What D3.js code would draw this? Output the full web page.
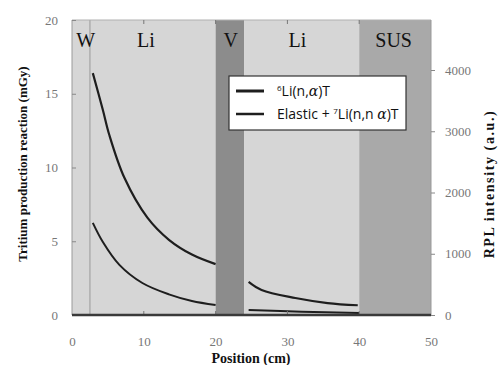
<!DOCTYPE html>
<html>
<head>
<meta charset="utf-8">
<script src="https://cdn.jsdelivr.net/npm/d3@7"></script>
<style>
  body { margin: 0; background: #fff; }
  svg text { font-family: "Liberation Serif", "DejaVu Serif", serif; }
</style>
</head>
<body>
<svg id="chart" width="498" height="365"></svg>
<script>
// material zones along the assembly (cm)
const zoneNames = ["W", "Li", "V", "Li", "SUS"];
const zoneStart = [0, 2.5, 20, 24, 40];
const zoneEnd = [2.5, 20, 24, 40, 50];
const zoneFill = ["#d6d6d6", "#d6d6d6", "#8c8c8c", "#d6d6d6", "#a9a9a9"];

// 6Li(n,a)T  (mGy)
const li6X = [2.9, 4.3, 5.2, 7.3, 10.5, 13.5, 16.7, 20];
const li6Y = [16.4, 13.9, 12.2, 9.3, 6.6, 5.1, 4.1, 3.45];
// Elastic + 7Li(n,n a)T
const li7X = [2.9, 4.3, 6.6, 9.8, 13.5, 16.7, 20];
const li7Y = [6.25, 4.95, 3.4, 2.17, 1.4, 0.95, 0.68];
// second Li layer
const li6bX = [24.6, 26.4, 31.1, 35.6, 39.8];
const li6bY = [2.24, 1.69, 1.15, 0.81, 0.66];
const li7bX = [24.6, 32, 40];
const li7bY = [0.34, 0.22, 0.14];

const xTicks = [0, 10, 20, 30, 40, 50];
const yTicks = [0, 5, 10, 15, 20];
const rTicks = [0, 1000, 2000, 3000, 4000];

const mLeft = 72, mRight = 431, mTop = 20, mBottom = 315;
const svg = d3.select("#chart");

const x = d3.scaleLinear().domain([0, 50]).range([mLeft, mRight]);
const y = d3.scaleLinear().domain([0, 20]).range([mBottom, mTop]);
const yR = d3.scaleLinear().domain([0, 4000]).range([mBottom, 70]);

// zones
svg.selectAll(".zone")
    .data(zoneNames)
    .enter()
    .append("rect")
    .attr("x", (d, i) => x(zoneStart[i]))
    .attr("y", mTop)
    .attr("width", (d, i) => x(zoneEnd[i]) - x(zoneStart[i]))
    .attr("height", mBottom - mTop)
    .attr("fill", (d, i) => zoneFill[i]);

// thin line between W and Li
svg.append("line")
    .attr("x1", x(2.5)).attr("x2", x(2.5))
    .attr("y1", mTop).attr("y2", mBottom)
    .attr("stroke", "#9a9a9a").attr("stroke-width", 1);

// frame
svg.append("line")
    .attr("x1", mLeft).attr("x2", mLeft).attr("y1", mTop).attr("y2", mBottom)
    .attr("stroke", "#9a9a9a");
svg.append("line")
    .attr("x1", mLeft).attr("x2", mRight).attr("y1", mTop).attr("y2", mTop)
    .attr("stroke", "#b0b0b0");
svg.append("line")
    .attr("x1", mRight).attr("x2", mRight).attr("y1", mTop).attr("y2", mBottom)
    .attr("stroke", "#999");

// zone labels
const zoneLabelX = [1.9, 10.3, 22.1, 31.4, 44.8];
svg.selectAll(".zlabel")
    .data(zoneNames)
    .enter()
    .append("text")
    .attr("x", (d, i) => x(zoneLabelX[i]))
    .attr("y", 47)
    .attr("text-anchor", "middle")
    .attr("font-size", 20)
    .attr("fill", "#111")
    .text(d => d);

// curves
const line = d3.line()
    .x(d => x(d[0]))
    .y(d => y(d[1]))
    .curve(d3.curveCatmullRom);

const curves = [
    [li6X, li6Y, 2.2],
    [li7X, li7Y, 2],
    [li6bX, li6bY, 2.2],
    [li7bX, li7bY, 2]
];
curves.forEach(c => {
    svg.append("path")
        .datum(c[0].map((v, i) => [v, c[1][i]]))
        .attr("d", line)
        .attr("fill", "none")
        .attr("stroke", "#1e1e1e")
        .attr("stroke-width", c[2]);
});

const serif = "Liberation Serif, DejaVu Serif, serif";

// axes
const ax = svg.append("g")
    .attr("transform", "translate(0," + mBottom + ")")
    .call(d3.axisBottom(x).tickValues(xTicks).tickSize(0).tickPadding(22));
ax.select(".domain").remove();
ax.attr("font-family", serif).attr("font-size", 13);
ax.selectAll("text").attr("fill", "#777");

// inward ticks on top/bottom
svg.selectAll(".xt")
    .data(xTicks.slice(1, 5))
    .enter()
    .append("line")
    .attr("x1", d => x(d)).attr("x2", d => x(d))
    .attr("y1", mBottom).attr("y2", mBottom - 4)
    .attr("stroke", "#777");
svg.selectAll(".xtt")
    .data(xTicks.slice(1, 5))
    .enter()
    .append("line")
    .attr("x1", d => x(d)).attr("x2", d => x(d))
    .attr("y1", mTop).attr("y2", mTop + 4)
    .attr("stroke", "#777");

const ay = svg.append("g")
    .attr("transform", "translate(" + mLeft + ",0)")
    .call(d3.axisLeft(y).tickValues(yTicks).tickSize(-4).tickPadding(14));
ay.select(".domain").remove();
ay.attr("font-family", serif).attr("font-size", 13);
ay.selectAll("line").attr("stroke", "#888");
ay.selectAll("text").attr("fill", "#777");

const ar = svg.append("g")
    .attr("transform", "translate(" + mRight + ",0)")
    .call(d3.axisRight(yR).tickValues(rTicks).tickFormat(d3.format("d")).tickSize(4).tickPadding(10));
ar.select(".domain").remove();
ar.attr("font-family", serif).attr("font-size", 13);
ar.selectAll("line").attr("stroke", "#888");
ar.selectAll("text").attr("fill", "#777");

// bottom axis line
svg.append("line")
    .attr("x1", mLeft).attr("x2", mRight)
    .attr("y1", mBottom).attr("y2", mBottom)
    .attr("stroke", "#3a3a3a").attr("stroke-width", 2.5);

// axis titles
svg.append("text")
    .attr("transform", "translate(27,164) rotate(-90)")
    .attr("text-anchor", "middle")
    .attr("font-size", 13).attr("font-weight", "bold").attr("fill", "#111")
    .text("Tritium production reaction (mGy)");

svg.append("text")
    .attr("transform", "translate(494,184) rotate(-90)")
    .attr("text-anchor", "middle")
    .attr("font-size", 14).attr("font-weight", "bold").attr("fill", "#111")
    .attr("letter-spacing", 1.6)
    .text("RPL intensity (a.u.)");

svg.append("text")
    .attr("x", 251).attr("y", 363)
    .attr("text-anchor", "middle")
    .attr("font-size", 14).attr("font-weight", "bold").attr("fill", "#111")
    .text("Position (cm)");

// legend
const lg = svg.append("g").attr("transform", "translate(229,76)");
lg.append("rect")
    .attr("width", 177).attr("height", 54)
    .attr("fill", "#fff").attr("stroke", "#333").attr("stroke-width", 1.2);
const legendRows = [
    { y: 15, w: 3, parts: [["6", "sup"], ["Li(n,", ""], ["α", "it"], [")T", ""]] },
    { y: 38, w: 2.5, parts: [["Elastic + ", ""], ["7", "sup"], ["Li(n,n ", ""], ["α", "it"], [")T", ""]] }
];
legendRows.forEach(r => {
    lg.append("line")
        .attr("x1", 7).attr("x2", 35)
        .attr("y1", r.y).attr("y2", r.y)
        .attr("stroke", "#1e1e1e").attr("stroke-width", r.w);
    const t = lg.append("text")
        .attr("x", 48).attr("y", r.y + 5)
        .attr("font-size", 14).attr("fill", "#111")
        .style("font-family", "'Open Sans', 'Noto Sans', sans-serif");
    r.parts.forEach((p, k) => {
        const s = t.append("tspan").text(p[0]);
        if (p[1] === "sup") s.attr("font-size", 8).attr("dy", -5);
        if (p[1] === "it") s.attr("font-style", "italic").style("font-family", "'DejaVu Serif', serif");
        if (k > 0 && r.parts[k - 1][1] === "sup") s.attr("dy", 5);
    });
});
</script>
</body>
</html>
